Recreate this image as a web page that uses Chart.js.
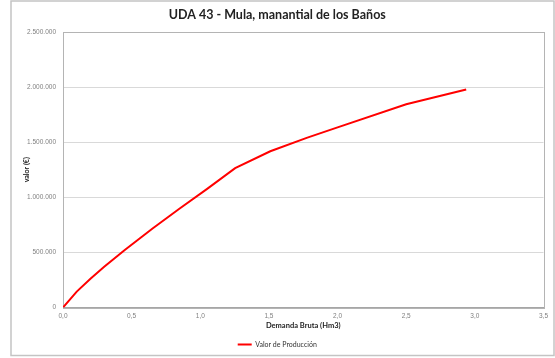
<!DOCTYPE html>
<html>
<head>
<meta charset="utf-8">
<script src="https://cdn.jsdelivr.net/npm/chart.js@4.4.1/dist/chart.umd.min.js"></script>
<style>
  html, body { margin: 0; padding: 0; background: #fff; }
  #wrap { width: 555px; height: 358px; }
</style>
</head>
<body>
<div id="wrap"><canvas id="uda" width="555" height="358"></canvas></div>
<script>
// Demanda bruta (Hm3) vs valor de producción (€)
const demanda = [0, 0.1, 0.2, 0.3, 0.45, 0.65, 0.85, 1.05, 1.254, 1.51, 1.78, 2.0, 2.5, 2.937];
const valor = [0, 144000, 261000, 369000, 522000, 715000, 899000, 1077000, 1265000, 1418000, 1542000, 1635000, 1845000, 1978000];

const xTicks = [0, 0.5, 1.0, 1.5, 2.0, 2.5, 3.0, 3.5];
const yTicks = [0, 500000, 1000000, 1500000, 2000000, 2500000];

const puntos = demanda.map((d, i) => ({ x: d, y: valor[i] }));

function miles(v) {
  return String(Math.round(v)).replace(/\B(?=(\d{3})+(?!\d))/g, '.');
}

// outer frame + plot box like the spreadsheet chart
const marco = {
  id: 'marco',
  beforeDraw(chart) {
    const c = chart.ctx;
    c.save();
    c.fillStyle = '#fff';
    c.fillRect(0, 0, chart.width, chart.height);
    c.strokeStyle = '#c4c4c4';
    c.lineWidth = 1.5;
    c.strokeRect(11, 1, 543, 354.5);
    c.restore();
  },
  beforeDatasetsDraw(chart) {
    const a = chart.chartArea;
    const c = chart.ctx;
    c.save();
    c.strokeStyle = '#b4b4b4';
    c.lineWidth = 1;
    c.strokeRect(Math.round(a.left) + 0.5, Math.round(a.top) + 0.5,
      Math.round(a.right - a.left), Math.round(a.bottom - a.top));
    c.restore();
  }
};

new Chart(document.getElementById('uda').getContext('2d'), {
  type: 'line',
  data: {
    datasets: [{
      label: 'Valor de Producción',
      data: puntos,
      borderColor: '#ff0000',
      backgroundColor: '#ff0000',
      borderWidth: 2,
      pointRadius: 0,
      tension: 0,
      fill: false
    }]
  },
  options: {
    responsive: false,
    animation: false,
    layout: { padding: { left: 11, right: 11.5, top: 0, bottom: 0 } },
    plugins: {
      title: {
        display: true,
        text: 'UDA 43 - Mula, manantial de los Baños',
        color: '#222',
        font: { family: 'Lato', size: 12.5, weight: 'bold' },
        padding: { top: 7, bottom: 10 }
      },
      legend: {
        position: 'bottom',
        labels: {
          color: '#333',
          font: { family: 'Lato', size: 7 },
          boxWidth: 14,
          boxHeight: 0,
          padding: 8
        }
      },
      tooltip: { enabled: false }
    },
    scales: {
      x: {
        type: 'linear',
        min: 0,
        max: 3.5,
        afterBuildTicks: s => { s.ticks = xTicks.map(v => ({ value: v })); },
        afterFit: s => { s.height = 25.5; },
        ticks: {
          color: '#808080',
          font: { family: 'Liberation Sans', size: 6.5 },
          padding: 5,
          maxRotation: 0,
          callback: v => v.toFixed(1).replace('.', ',')
        },
        grid: { display: false, drawTicks: false },
        border: { display: true, color: '#a6a6a6' },
        title: {
          display: true,
          text: 'Demanda Bruta (Hm3)',
          color: '#222',
          font: { family: 'Lato', size: 7.5, weight: 'bold' },
          padding: { top: 0, bottom: 3 }
        }
      },
      y: {
        min: 0,
        max: 2500000,
        afterBuildTicks: s => { s.ticks = yTicks.map(v => ({ value: v })); },
        afterFit: s => { s.width = 52; },
        ticks: {
          color: '#808080',
          font: { family: 'Liberation Sans', size: 6.5 },
          padding: 7,
          callback: v => miles(v)
        },
        grid: { color: '#d9d9d9', lineWidth: 1, drawTicks: false },
        border: { display: true, color: '#a6a6a6' },
        title: {
          display: true,
          text: 'valor (€)',
          color: '#222',
          font: { family: 'Lato', size: 7, weight: 'bold' },
          padding: { top: 12, bottom: 0 }
        }
      }
    }
  },
  plugins: [marco]
});
</script>
</body>
</html>
